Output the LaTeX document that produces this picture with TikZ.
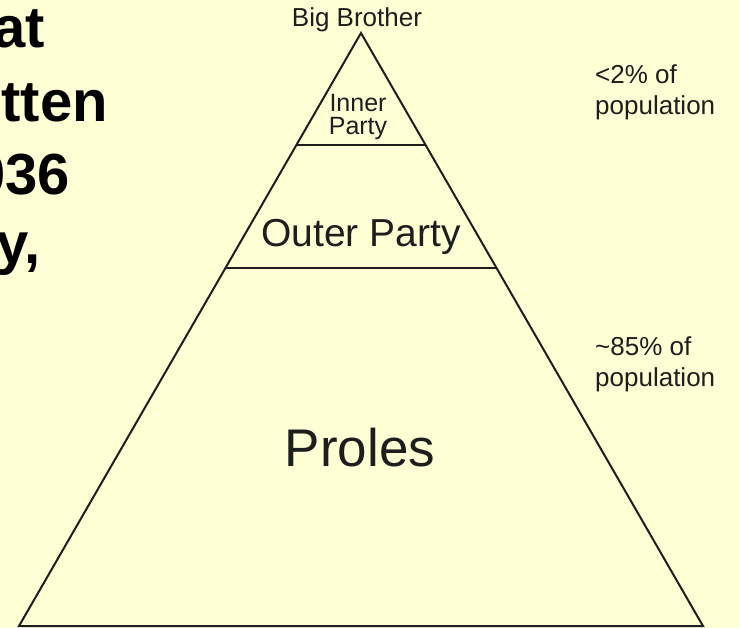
\documentclass[tikz,border=0pt]{standalone}
\usepackage{fontspec}
\setmainfont{Liberation Sans}
\usetikzlibrary{calc}
\definecolor{slidebg}{RGB}{255,255,214}
\definecolor{inkgrey}{RGB}{30,30,30}
\begin{document}
\begin{tikzpicture}[x=1pt, y=-1pt,
    edge/.style={draw=inkgrey, line width=2pt, line join=miter},
    slidetxt/.style={anchor=base east, inner sep=0pt, text=black},
    tier/.style={anchor=base, inner sep=0pt, text=inkgrey},
    share/.style={anchor=west, inner sep=0pt, text=inkgrey, align=left,
      font=\fontsize{26}{31}\selectfont}]
    % page and background
    \useasboundingbox (0,0) rectangle (740,628);
    \fill[slidebg] (0,0) rectangle (740,628);
    \clip (0,0) rectangle (740,628);

    % cut-off slide text on the left
    \node[slidetxt] (slideA) at (45,48) {{\fontsize{58}{73}\selectfont\bfseries at}};
    \node[slidetxt] (slideB) at (108,122) {{\fontsize{58}{73}\selectfont\bfseries tten}};
    \node[slidetxt] (slideC) at (70,195) {{\fontsize{58}{73}\selectfont\bfseries 036}};
    \node[slidetxt] (slideD) at (41,264) {{\fontsize{58}{73}\selectfont\bfseries y,}};

    % pyramid outline
    \coordinate (apex) at (361,33);
    \coordinate (baseL) at (19,626);
    \coordinate (baseR) at (703,626);
    \draw[edge] (baseL) -- (apex) -- (baseR) -- cycle;

    % tier lines
    \draw[edge] ($(apex)!0.189!(baseL)$) -- ($(apex)!0.189!(baseR)$);
    \draw[edge] ($(apex)!0.396!(baseL)$) -- ($(apex)!0.396!(baseR)$);

    % tier labels
    \node[tier] (bigbro) at (357,27) {{\fontsize{26}{30}\selectfont Big Brother}};
    \node[tier, anchor=center, align=center, font=\fontsize{25}{23}\selectfont] (inner) at (358,117) {Inner\\Party};
    \node[tier] (outer) at (361,247) {{\fontsize{39}{44}\selectfont Outer Party}};
    \node[tier] (proles) at (360,467) {{\fontsize{53}{60}\selectfont Proles}};

    % population shares
    \node[share] (shareTop) at (595,92) {<2\% of\\population};
    \node[share] (shareLow) at (595,364) {\textasciitilde85\% of\\population};
\end{tikzpicture}
\end{document}
